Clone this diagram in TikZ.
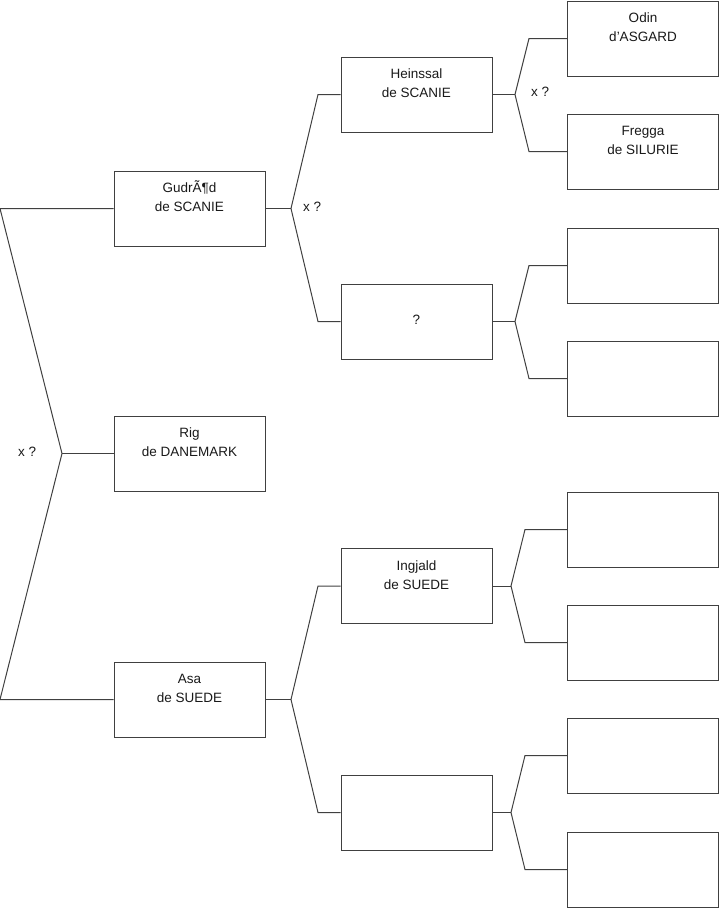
\documentclass[tikz,border=0pt]{standalone}
\usepackage{fontspec}
\setmainfont{Liberation Sans}[Ligatures=ResetAll]
\definecolor{linec}{RGB}{64,64,64}
\definecolor{txtc}{RGB}{25,25,25}
\begin{document}
\begin{tikzpicture}[x=1pt,y=-1pt,
  box/.style={draw=linec, line width=1pt, minimum width=151pt, minimum height=75pt, inner sep=0pt},
  txt/.style={font=\fontsize{13.5}{20}\selectfont, text=txtc, inner sep=0pt, anchor=base},
  conn/.style={draw=linec, line width=1pt}]
\useasboundingbox (0,0) rectangle (719,908);
% level 1
\node[box] (gud) at (189.5,208.5) {};
\node[box] (rig) at (189.5,453.5) {};
\node[box] (asa) at (189.5,699.5) {};
% level 2
\node[box] (hei) at (416.5,94.5) {};
\node[box] (unk) at (416.5,321.5) {};
\node[box] (ing) at (416.5,586) {};
\node[box] (emp) at (416.5,812.5) {};
% level 3
\node[box] (odi) at (643,38.5) {};
\node[box] (fre) at (643,151.5) {};
\node[box] (b3) at (643,265.5) {};
\node[box] (b4) at (643,378.5) {};
\node[box] (b5) at (643,529.5) {};
\node[box] (b6) at (643,642.5) {};
\node[box] (b7) at (643,755.5) {};
\node[box] (b8) at (643,869.5) {};
% texts
\node[txt] (gud1) at ([yshift=16pt]gud.center) {GudrÃ¶d};
\node[txt] (gud2) at ([yshift=-3pt]gud.center) {de SCANIE};
\node[txt] (rig1) at ([yshift=16pt]rig.center) {Rig};
\node[txt] (rig2) at ([yshift=-3pt]rig.center) {de DANEMARK};
\node[txt] (asa1) at ([yshift=16pt]asa.center) {Asa};
\node[txt] (asa2) at ([yshift=-3pt]asa.center) {de SUEDE};
\node[txt] (hei1) at ([yshift=16pt]hei.center) {Heinssal};
\node[txt] (hei2) at ([yshift=-3pt]hei.center) {de SCANIE};
\node[txt] (unk2) at ([yshift=-3pt]unk.center) {?};
\node[txt] (ing1) at ([yshift=16pt]ing.center) {Ingjald};
\node[txt] (ing2) at ([yshift=-3pt]ing.center) {de SUEDE};
\node[txt] (odi1) at ([yshift=16pt]odi.center) {Odin};
\node[txt] (odi2) at ([yshift=-3pt]odi.center) {d'ASGARD};
\node[txt] (fre1) at ([yshift=16pt]fre.center) {Fregga};
\node[txt] (fre2) at ([yshift=-3pt]fre.center) {de SILURIE};
% x ? labels
\node[txt, anchor=base west] (xr) at (18,456) {x ?};
\node[txt, anchor=base west] (xg) at (303,211) {x ?};
\node[txt, anchor=base west] (xh) at (531,96) {x ?};
% junction coordinates
\coordinate (rt) at (0,208.5);
\coordinate (rb) at (0,699.5);
\coordinate (r) at (62,453.5);
\coordinate (jg) at (291,208.5);
\coordinate (jg1) at (318,94.5);
\coordinate (jg2) at (318,321.5);
\coordinate (ja) at (291,699.5);
\coordinate (ja1) at (318,586);
\coordinate (ja2) at (318,812.5);
\coordinate (jh) at (515,94.5);
\coordinate (jh1) at (529,38.5);
\coordinate (jh2) at (529,151.5);
\coordinate (ju) at (515,321.5);
\coordinate (ju1) at (529,265.5);
\coordinate (ju2) at (529,378.5);
\coordinate (ji) at (511,586);
\coordinate (ji1) at (525,529.5);
\coordinate (ji2) at (525,642.5);
\coordinate (je) at (511,812.5);
\coordinate (je1) at (525,755.5);
\coordinate (je2) at (525,869.5);
% connectors
\draw[conn] (gud.west) -- (rt) -- (r) -- (rb) -- (asa.west);
\draw[conn] (r) -- (rig.west);
\draw[conn] (hei.west) -- (jg1) -- (jg) -- (jg2) -- (unk.west);
\draw[conn] (jg) -- (gud.east);
\draw[conn] (ing.west) -- (ja1) -- (ja) -- (ja2) -- (emp.west);
\draw[conn] (ja) -- (asa.east);
\draw[conn] (odi.west) -- (jh1) -- (jh) -- (jh2) -- (fre.west);
\draw[conn] (jh) -- (hei.east);
\draw[conn] (b3.west) -- (ju1) -- (ju) -- (ju2) -- (b4.west);
\draw[conn] (ju) -- (unk.east);
\draw[conn] (b5.west) -- (ji1) -- (ji) -- (ji2) -- (b6.west);
\draw[conn] (ji) -- (ing.east);
\draw[conn] (b7.west) -- (je1) -- (je) -- (je2) -- (b8.west);
\draw[conn] (je) -- (emp.east);
\end{tikzpicture}
\end{document}
